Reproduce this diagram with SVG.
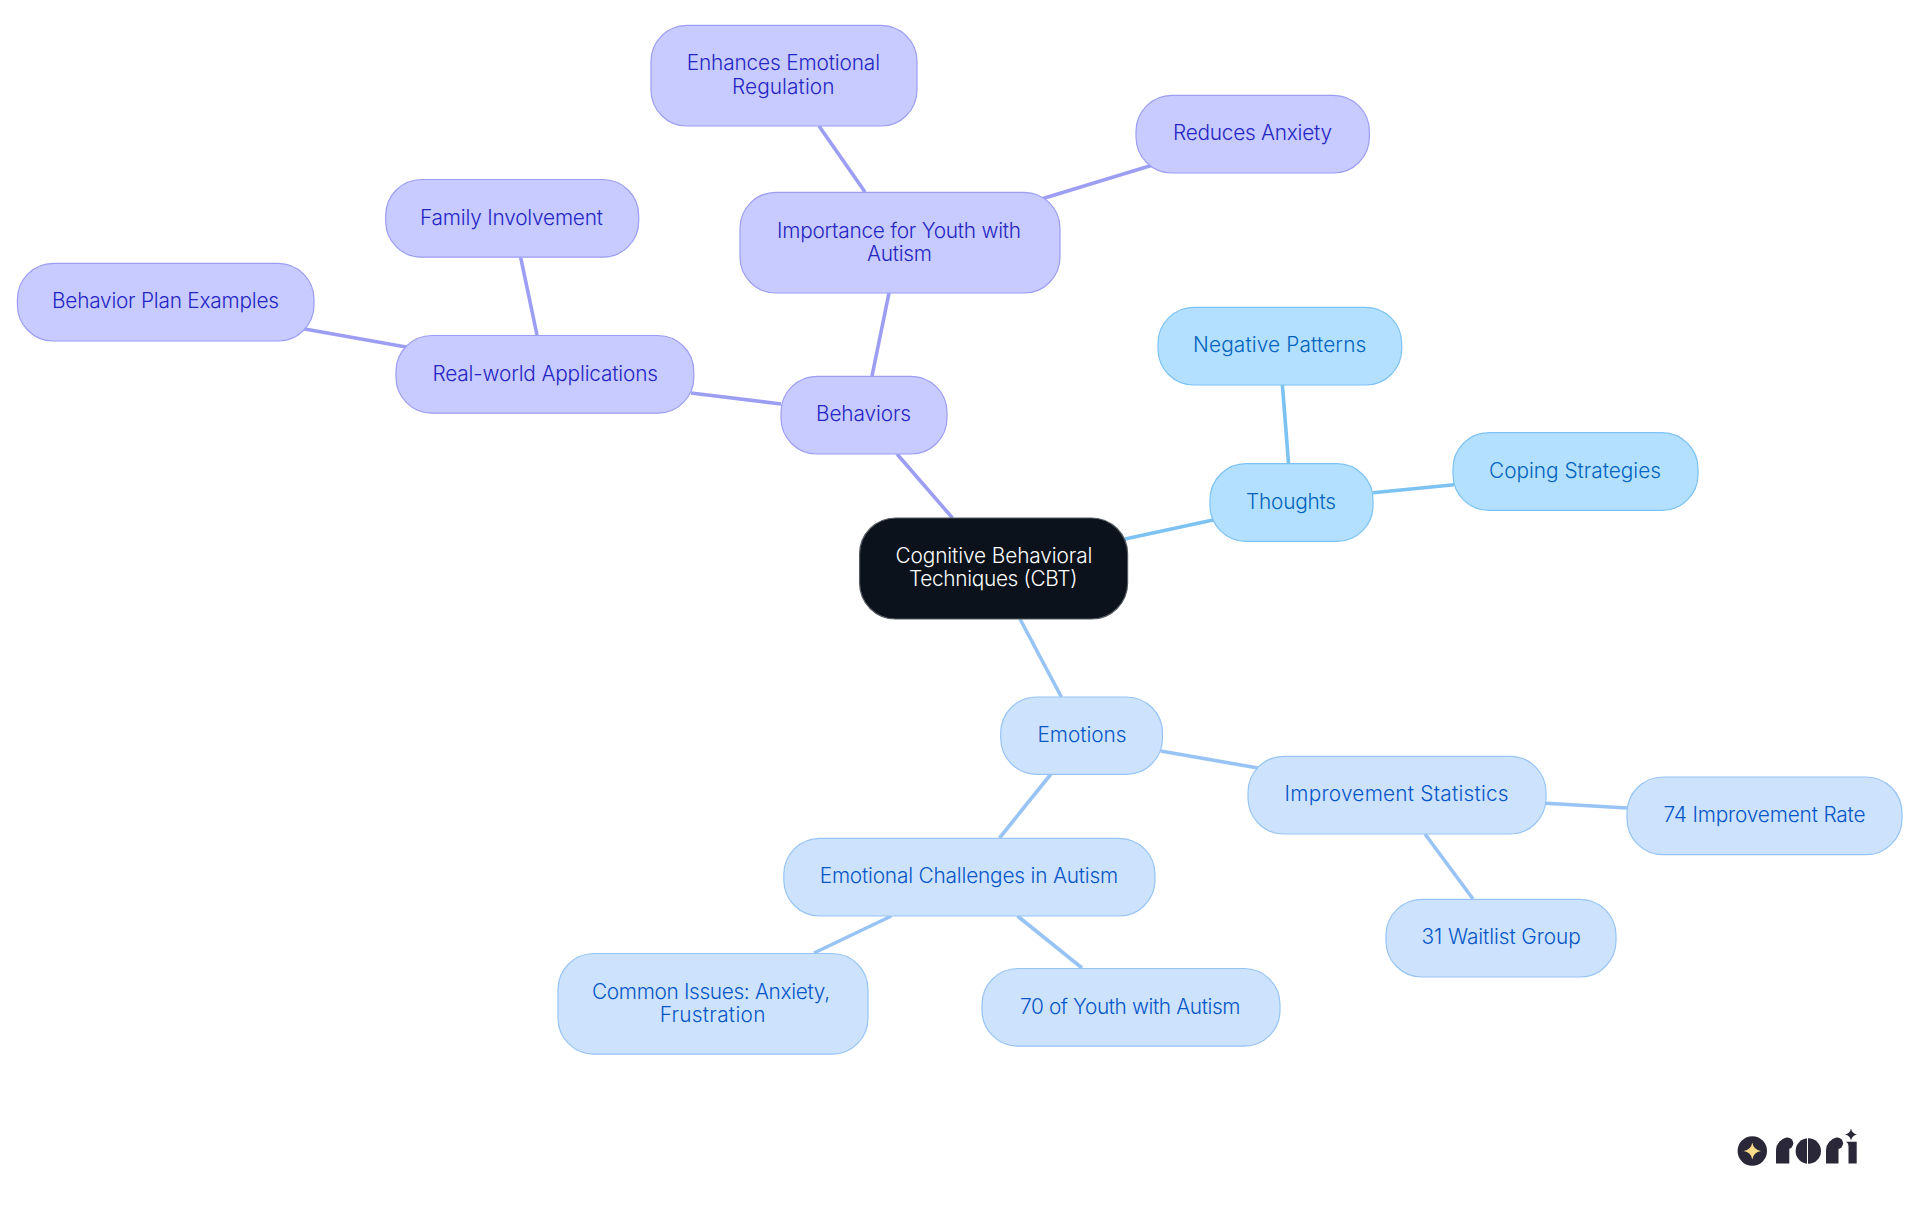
<svg xmlns="http://www.w3.org/2000/svg" width="1920" height="1215" viewBox="0 0 1920 1215">
<style>
text{font-family:"Inter","Noto Sans","Liberation Sans",sans-serif;font-size:20.8px;font-weight:350;opacity:.995}
.n rect{stroke-width:1.2;rx:36px;ry:36px}
.b rect{fill:#c8cbff;stroke:#9b9df2}.b text{fill:#2525c4}
.e rect{fill:#cde3fd;stroke:#97c4f5}.e text{fill:#0656c8}
.t rect{fill:#b4e0ff;stroke:#7cc2f3}.t text{fill:#0063be}
.c rect{fill:#0b121b;stroke:#555a60}.c text{fill:#fff}
#edges line{stroke-width:3.6;fill:none}
.lb{stroke:#9c9ef4}.le{stroke:#97c4f5}.lt{stroke:#7cc2f3}
.lg{fill:#2a2838}
</style>
<rect width="1920" height="1215" fill="#fff"/>
<g id="edges">
<line class="lb" x1="897" y1="454" x2="952.5" y2="518"/>
<line class="lb" x1="889" y1="293" x2="872" y2="376"/>
<line class="lb" x1="691" y1="393" x2="781" y2="404"/>
<line class="lb" x1="819" y1="126" x2="865" y2="192"/>
<line class="lb" x1="1043" y1="198.5" x2="1152" y2="165.3"/>
<line class="lb" x1="520.7" y1="257.7" x2="537" y2="335"/>
<line class="lb" x1="302" y1="328.5" x2="406" y2="347"/>
<line class="lt" x1="1125" y1="539" x2="1213" y2="520"/>
<line class="lt" x1="1282.4" y1="385" x2="1288.6" y2="464"/>
<line class="lt" x1="1373" y1="492.7" x2="1454" y2="484.7"/>
<line class="le" x1="1020" y1="619" x2="1061.4" y2="697"/>
<line class="le" x1="1160.7" y1="751" x2="1258" y2="768"/>
<line class="le" x1="1051" y1="774" x2="999.5" y2="838"/>
<line class="le" x1="1546" y1="803.3" x2="1627" y2="808"/>
<line class="le" x1="1425" y1="834" x2="1473" y2="899"/>
<line class="le" x1="891.4" y1="916" x2="814" y2="953"/>
<line class="le" x1="1017.5" y1="916" x2="1082" y2="968"/>
</g>
<g id="center" class="n c"><rect x="859.6" y="518" width="268" height="101"/><text x="895.4" y="563" textLength="197">Cognitive Behavioral</text><text x="909" y="586" textLength="168.5">Techniques (CBT)</text></g>
<g id="behaviors" class="n b"><rect x="781" y="376.3" width="166" height="77.7"/><text x="816" y="421" textLength="95">Behaviors</text></g>
<g id="importance" class="n b"><rect x="740" y="192.3" width="320" height="100.7"/><text x="777" y="238" textLength="244">Importance for Youth with</text><text x="867" y="261" textLength="65">Autism</text></g>
<g id="enhances" class="n b"><rect x="651" y="25.3" width="266" height="100.7"/><text x="686.7" y="70" textLength="193.3">Enhances Emotional</text><text x="732" y="94" textLength="102.5">Regulation</text></g>
<g id="reduces" class="n b"><rect x="1136" y="95.3" width="233.4" height="77.7"/><text x="1173" y="140" textLength="159">Reduces Anxiety</text></g>
<g id="realworld" class="n b"><rect x="396" y="335.5" width="297.8" height="77.7"/><text x="432.5" y="380.7" textLength="225.5">Real-world Applications</text></g>
<g id="family" class="n b"><rect x="385.7" y="179.5" width="253" height="77.7"/><text x="420" y="225" textLength="183">Family Involvement</text></g>
<g id="behaviorplan" class="n b"><rect x="17.4" y="263.3" width="296.6" height="77.7"/><text x="52" y="307.7" textLength="227">Behavior Plan Examples</text></g>
<g id="thoughts" class="n t"><rect x="1210" y="463.7" width="163" height="77.7"/><text x="1246" y="509" textLength="90">Thoughts</text></g>
<g id="negative" class="n t"><rect x="1158" y="307.3" width="243.7" height="77.7"/><text x="1193" y="352" textLength="173.3">Negative Patterns</text></g>
<g id="coping" class="n t"><rect x="1453" y="432.7" width="245" height="77.7"/><text x="1489" y="478.3" textLength="172">Coping Strategies</text></g>
<g id="emotions" class="n e"><rect x="1000.7" y="697" width="161.8" height="77.3"/><text x="1037.5" y="742" textLength="89">Emotions</text></g>
<g id="improvement" class="n e"><rect x="1248" y="756.3" width="298" height="77.7"/><text x="1284.6" y="801" textLength="224">Improvement Statistics</text></g>
<g id="rate74" class="n e"><rect x="1627" y="777" width="275" height="77.7"/><text x="1663.5" y="822" textLength="202">74 Improvement Rate</text></g>
<g id="waitlist31" class="n e"><rect x="1386" y="899.3" width="230" height="77.7"/><text x="1421.5" y="944" textLength="159.3">31 Waitlist Group</text></g>
<g id="challenges" class="n e"><rect x="783.8" y="838.3" width="371.2" height="77.7"/><text x="819.7" y="883" textLength="298.5">Emotional Challenges in Autism</text></g>
<g id="common" class="n e"><rect x="558" y="953.5" width="310" height="100.7"/><text x="592" y="999" textLength="238">Common Issues: Anxiety,</text><text x="659.7" y="1022" textLength="105.7">Frustration</text></g>
<g id="youth70" class="n e"><rect x="982" y="968.5" width="298" height="77.7"/><text x="1020" y="1014" textLength="220.5">70 of Youth with Autism</text></g>
<g id="logo">
<circle class="lg" cx="1752.3" cy="1151" r="14.7"/>
<path d="M1752.3 1142.5Q1753.5 1149.8 1761 1151Q1753.5 1152.2 1752.3 1159.5Q1751.1 1152.2 1743.6 1151Q1751.1 1149.8 1752.3 1142.5Z" fill="#fadb8a"/>
<path class="lg" d="M1776 1163.5V1150A13 13 0 0 1 1787 1137.6V1146L1789.3 1149V1163.5Z"/><circle class="lg" cx="1787.5" cy="1143.3" r="5.8"/>
<circle class="lg" cx="1808.3" cy="1151" r="12.7"/><rect x="1807" y="1138" width="1" height="26" fill="#fff"/>
<path class="lg" d="M1826 1163.5V1150A13 13 0 0 1 1837 1137.6V1146L1838.5 1149V1163.5Z"/><circle class="lg" cx="1837.3" cy="1143.3" r="5.8"/>
<path class="lg" d="M1845.7 1141.7H1856.7V1163.5H1848.5V1147Q1848.5 1142.5 1845.7 1141.7Z"/>
<path class="lg" d="M1851 1128.5Q1852 1133.5 1857 1134.5Q1852 1135.5 1851 1140.5Q1850 1135.5 1845 1134.5Q1850 1133.5 1851 1128.5Z"/>
</g>
</svg>
